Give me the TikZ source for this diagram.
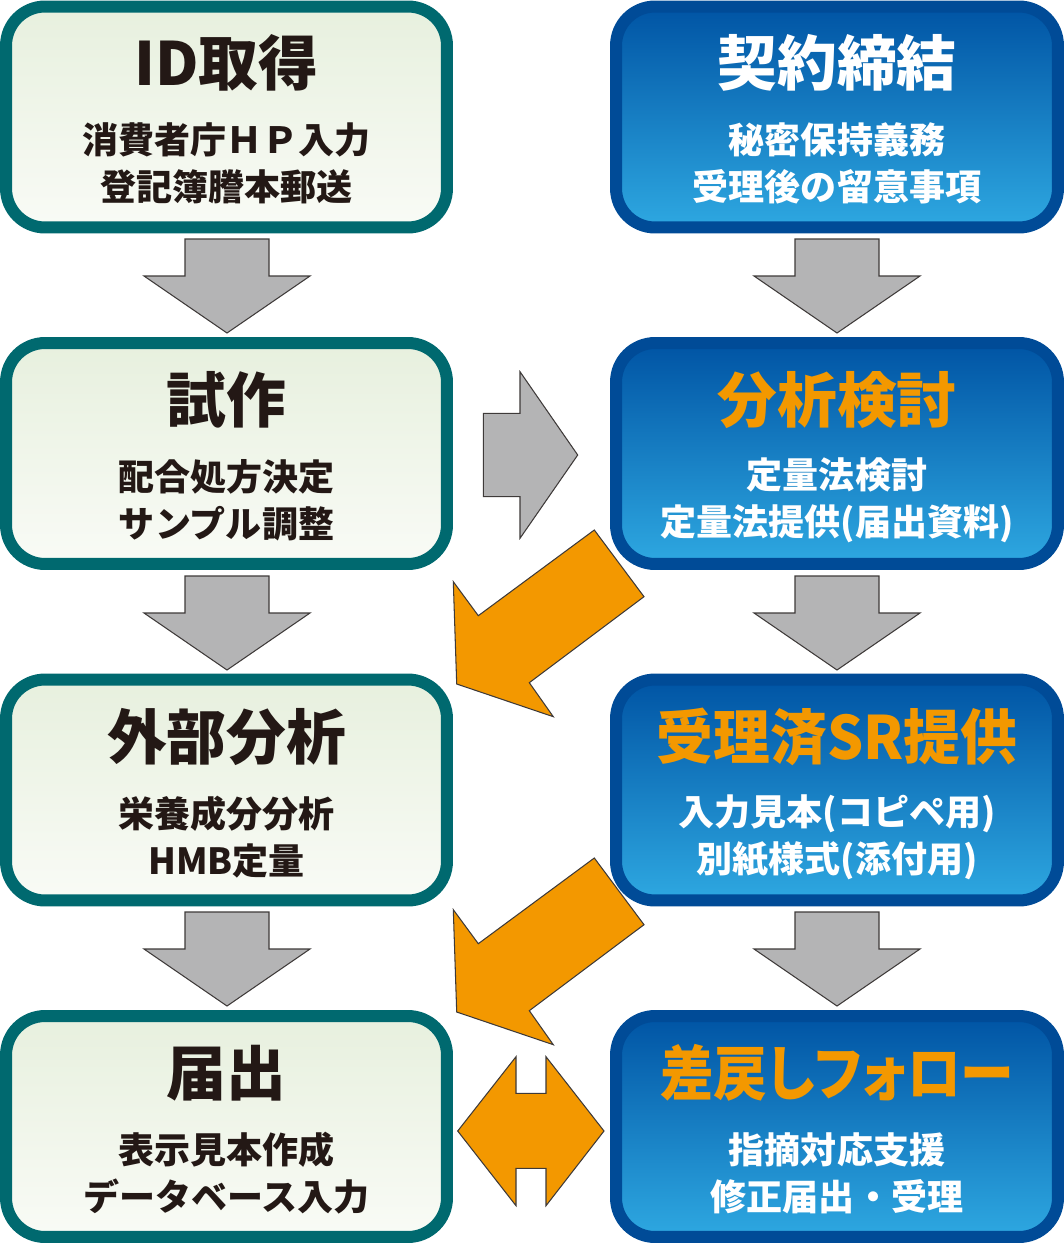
\documentclass[tikz,border=0pt]{standalone}
\usepackage{fontspec}
\newfontfamily\jp{Noto Sans CJK JP}
\usetikzlibrary{positioning}
\definecolor{tealbd}{HTML}{00696F}
\definecolor{lfillt}{HTML}{E7F0DE}
\definecolor{lfillb}{HTML}{F9FBF6}
\definecolor{bluebd}{HTML}{004B97}
\definecolor{rfillt}{HTML}{0054A4}
\definecolor{rfillm}{HTML}{085CAC}
\definecolor{rfillb}{HTML}{2EA8E1}
\definecolor{orng}{HTML}{F39800}
\definecolor{ink}{HTML}{231815}
\definecolor{grayfill}{HTML}{B4B4B5}
\definecolor{graystroke}{HTML}{3E3A39}

\begin{document}
\begin{tikzpicture}[x=0.02cm, y=-0.02cm,
		lbox/.style={draw=tealbd, line width=0.24cm, rounded corners=0.78cm, top color=lfillt, bottom color=lfillb, minimum width=8.82cm, minimum height=4.42cm},
		rbox/.style={draw=bluebd, line width=0.24cm, rounded corners=0.78cm, top color=rfillt, middle color=rfillm, bottom color=rfillb, minimum width=8.84cm, minimum height=4.42cm},
		title/.style={font=\jp\bfseries\fontsize{34}{40}\selectfont, inner sep=0pt},
		sub/.style={font=\jp\bfseries\fontsize{20.5}{26.7}\selectfont, align=center, inner sep=0pt},
		grayarr/.style={fill=grayfill, draw=graystroke, line width=0.6pt, line join=miter},
		orarr/.style={fill=orng, draw=graystroke, line width=0.6pt, line join=miter}]
			\useasboundingbox (0,0) rectangle (1064,1244);
			
			\node[lbox] (L1) at (226.5,117) {};
			\node[lbox] (L2) at (226.5,453.5) {};
			\node[lbox] (L3) at (226.5,790) {};
			\node[lbox] (L4) at (226.5,1126.5) {};
			\node[rbox] (R1) at (837,117) {};
			\node[rbox] (R2) at (837,453.5) {};
			\node[rbox] (R3) at (837,790) {};
			\node[rbox] (R4) at (837,1126.5) {};
			
			\node[title, text=ink] (L1t) at (226.5,63) {ID取得};
			\node[sub, text=ink] (L1s) at (226.5,163) {消費者庁ＨＰ入力\\登記簿謄本郵送};
			\node[title, text=ink] (L2t) at (226.5,400) {試作};
			\node[sub, text=ink] (L2s) at (226.5,500) {配合処方決定\\サンプル調整};
			\node[title, text=ink] (L3t) at (226.5,737) {外部分析};
			\node[sub, text=ink] (L3s) at (226.5,837) {栄養成分分析\\HMB定量};
			\node[title, text=ink] (L4t) at (226.5,1073) {届出};
			\node[sub, text=ink] (L4s) at (226.5,1173) {表示見本作成\\データベース入力};
			
			\node[title, text=white] (R1t) at (837,63) {契約締結};
			\node[sub, text=white] (R1s) at (837,163) {秘密保持義務\\受理後の留意事項};
			\node[title, text=orng] (R2t) at (837,400) {分析検討};
			\node[sub, text=white] (R2s) at (837,500) {定量法検討\\定量法提供(届出資料)};
			\node[title, text=orng] (R3t) at (837,737) {\scalebox{0.95}[1]{受理済SR提供}};
			\node[sub, text=white] (R3s) at (837,837) {入力見本(コピペ用)\\別紙様式(添付用)};
			\node[title, text=orng] (R4t) at (837,1073) {\scalebox{0.9}[1]{\addfontfeatures{RawFeature=+palt}差戻しフォロー}};
			\node[sub, text=white] (R4s) at (837,1173) {指摘対応支援\\修正届出・受理};
			
			\def\dnarrow#1#2{\draw[grayarr] ({#1-42},#2) -- ({#1+42},#2) -- ({#1+42},{#2+37}) -- ({#1+83},{#2+37}) -- (#1,{#2+94}) -- ({#1-83},{#2+37}) -- ({#1-42},{#2+37}) -- cycle;}
			
			\dnarrow{227}{239}
			\dnarrow{227}{576}
			\dnarrow{227}{912}
			\dnarrow{837}{239}
			\dnarrow{837}{576}
			\dnarrow{837}{912}
			
			\draw[grayarr] (483.3,413.3) -- (520,413.3) -- (520,371.7) -- (577.7,455) -- (520,538.3) -- (520,496.7) -- (483.3,496.7) -- cycle;
			
			\draw[orarr] (594.3,530) -- (478.3,615.7) -- (453.3,581.7) -- (456.7,684) -- (553.3,716.7) -- (529.3,682.7) -- (644,596.7) -- cycle;
			\draw[orarr] (594.3,858) -- (478.3,943.7) -- (453.3,909.7) -- (456.7,1012) -- (553.3,1044.7) -- (529.3,1010.7) -- (644,924.7) -- cycle;
			
			\draw[orarr] (457.7,1131) -- (516,1056.7) -- (516,1093.3) -- (546,1093.3) -- (546,1056.7) -- (604,1131) -- (546,1205.7) -- (546,1168.3) -- (516,1168.3) -- (516,1205.7) -- cycle;
			
		\end{tikzpicture}
\end{document}
